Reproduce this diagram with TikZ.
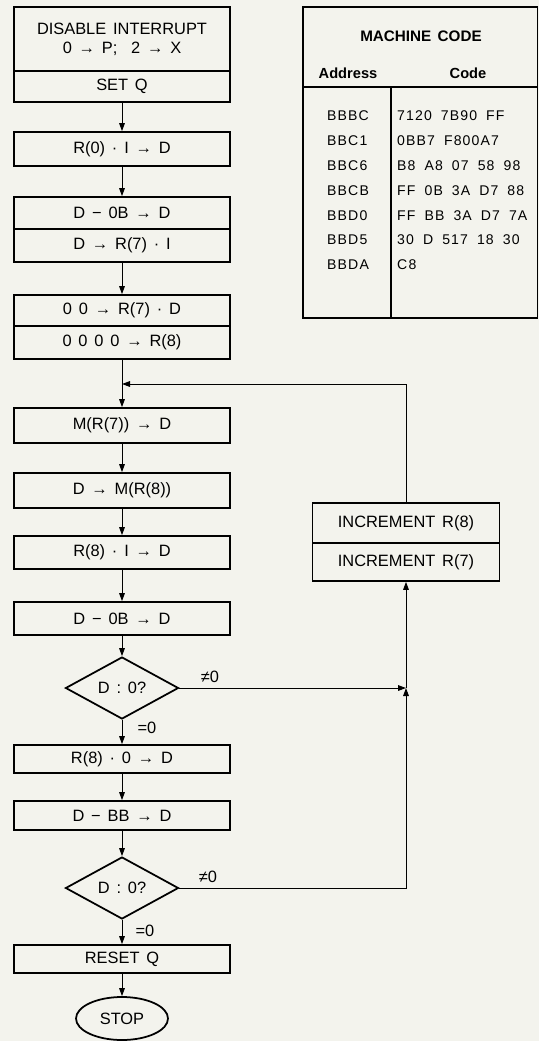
\documentclass[tikz,border=0pt]{standalone}
\usepackage{fontspec}
\setmainfont{Liberation Sans}[WordSpace=1.5]
\newfontfamily\tabfont{Liberation Sans}[LetterSpace=8, WordSpace=1.8]
\usepackage{tikz}
\usetikzlibrary{arrows.meta,positioning,shapes.geometric}
\definecolor{paper}{RGB}{243,243,237}

\begin{document}
\begin{tikzpicture}[
  x=0.03cm, y=-0.03cm,
  box/.style={draw, line width=1.5pt, fill=paper, minimum width=6.48cm, minimum height=1cm, inner sep=0pt, align=center, font=\fontsize{14}{16}\selectfont},
  incbox/.style={box, minimum width=5.61cm},
  dec/.style={draw, diamond, line width=1.5pt, fill=paper, minimum width=3.39cm, minimum height=1.86cm, inner sep=0pt, font=\fontsize{14}{16}\selectfont},
  arr/.style={-{Triangle[length=2.4mm,width=1.7mm]}, line width=0.8pt},
  lbl/.style={font=\fontsize{14}{16}\selectfont},
  rowtxt/.style={anchor=west, inner sep=0pt, font=\tabfont\fontsize{12}{14}\selectfont}
]
\useasboundingbox (0,0) rectangle (539,1041);
\fill[paper] (0,0) rectangle (539,1041);

% main column
\node[box, minimum height=1.92cm] (dis) at (122,39) {DISABLE INTERRUPT\\0 → P;\ \ 2 → X};
\node[box, minimum height=0.93cm] (setq) at (122,86.5) {SET Q};
\node[box, minimum height=1.02cm] (rd) at (122,149) {R(0) · I → D};
\node[box, minimum height=0.96cm] (sub) at (122,213) {D − 0B → D};
\node[box, minimum height=0.99cm] (st) at (122,245.5) {D → R(7) · I};
\node[box, minimum height=0.93cm] (clr) at (122,310.5) {0 0 → R(7) · D};
\node[box, minimum height=0.99cm] (zero) at (122,342.5) {0 0 0 0 → R(8)};
\coordinate (join) at (122,384);
\node[box, minimum height=1.05cm] (ld) at (122,425.5) {M(R(7)) → D};
\node[box, minimum height=1.05cm] (sto) at (122,490.5) {D → M(R(8))};
\node[box, minimum height=0.99cm] (inc) at (122,552.5) {R(8) · I → D};
\node[box, minimum height=0.99cm] (cmp) at (122,618.5) {D − 0B → D};
\node[dec] (dec1) at (122,688) {D : 0?};
\node[box, minimum height=0.84cm] (rsub) at (122,759) {R(8) · 0 → D};
\node[box, minimum height=0.87cm] (cbb) at (122,815.5) {D − BB → D};
\node[dec] (dec2) at (122,888) {D : 0?};
\node[box, minimum height=0.84cm] (rst) at (122,959) {RESET Q};
\node[draw, ellipse, line width=1.5pt, fill=paper, minimum width=2.76cm, minimum height=1.29cm, inner sep=0pt, font=\fontsize{14}{16}\selectfont] (stop) at (122,1018.5) {STOP};

% loop box
\node[incbox, minimum height=1.2cm] (incr8) at (406,523) {INCREMENT R(8)};
\node[incbox, minimum height=1.14cm] (incr7) at (406,562) {INCREMENT R(7)};
\coordinate (meet) at (incr7.south |- dec1.east);

% labels
\node[lbl] (ne1) at (210,677) {≠0};
\node[lbl] (eq1) at (147,728) {=0};
\node[lbl] (ne2) at (208,877) {≠0};
\node[lbl] (eq2) at (145,931) {=0};

% connectors
\draw[arr] (setq) -- (rd);
\draw[arr] (rd) -- (sub);
\draw[arr] (st) -- (clr);
\draw[arr] (zero) -- (ld);
\draw[arr] (incr8.north) |- (join);
\draw[arr] (ld) -- (sto);
\draw[arr] (sto) -- (inc);
\draw[arr] (inc) -- (cmp);
\draw[arr] (cmp) -- (dec1);
\draw[arr] (dec1) -- (rsub);
\draw[arr] (dec1.east) -- (meet);
\draw[arr] (rsub) -- (cbb);
\draw[arr] (cbb) -- (dec2);
\draw[arr] (dec2.east) -| (meet);
\draw[arr] (meet) -- (incr7.south);
\draw[arr] (dec2) -- (rst);
\draw[arr] (rst) -- (stop);

% machine code table
\draw[line width=1.5pt] (303,7) rectangle (537.5,318);
\draw[line width=1.5pt] (303,87) -- (537.5,87);
\draw[line width=1.5pt] (391,87) -- (391,318);
\node[font=\bfseries\fontsize{13}{15}\selectfont] (title) at (421,36) {MACHINE CODE};
\node[font=\bfseries\fontsize{12.5}{15}\selectfont] (addr) at (348,73) {Address};
\node[font=\bfseries\fontsize{12.5}{15}\selectfont] (code) at (468,73) {Code};
\foreach \a/\c [count=\i] in {BBBC/7120 7B90 FF, BBC1/0BB7 F800A7, BBC6/B8 A8 07 58 98, BBCB/FF 0B 3A D7 88, BBD0/FF BB 3A D7 7A, BBD5/30 D 517 18 30, BBDA/C8} {
  \node[rowtxt] (a\i) at (327,{91.2+24.8*\i}) {\a};
  \node[rowtxt] (c\i) at (397,{91.2+24.8*\i}) {\c};
}
\end{tikzpicture}
\end{document}
